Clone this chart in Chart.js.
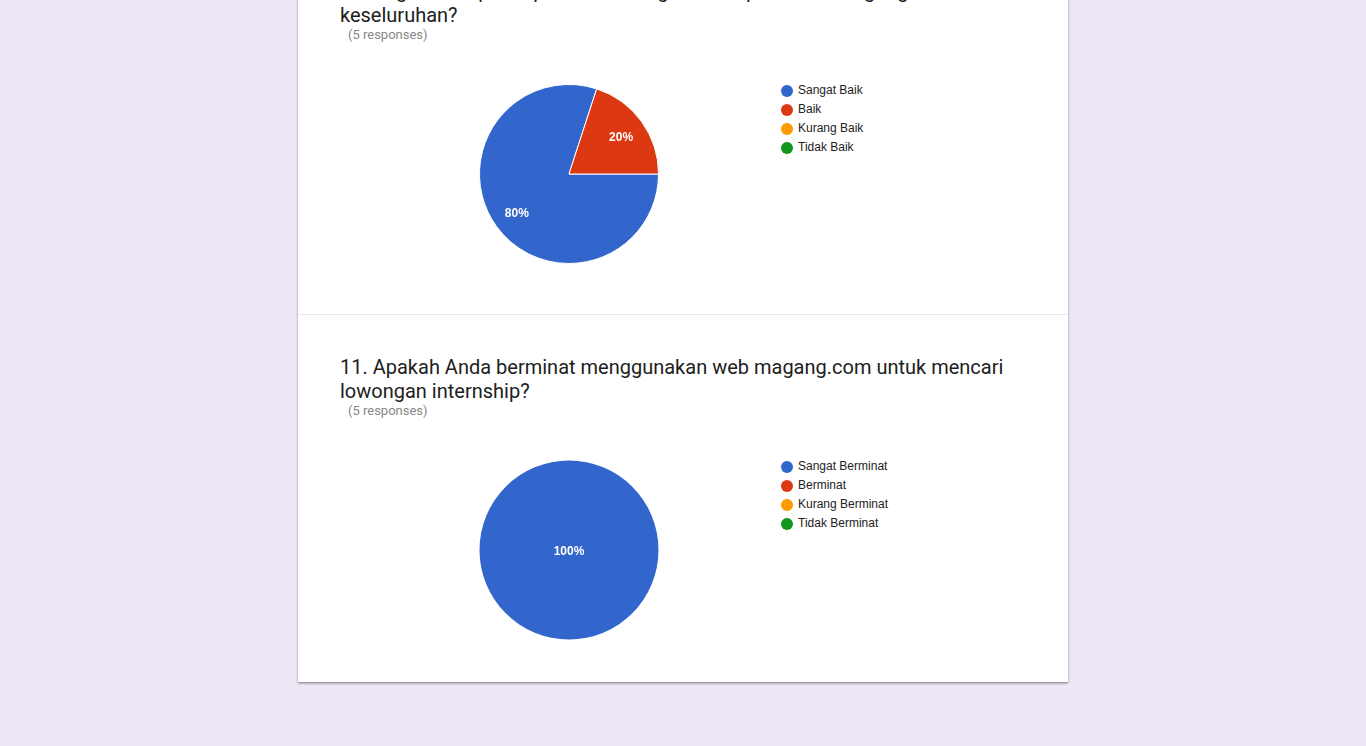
<!DOCTYPE html>
<html>
<head>
<meta charset="utf-8">
<script src="https://cdn.jsdelivr.net/npm/chart.js@4"></script>
<style>
  html, body { margin:0; padding:0; }
  body { width:1366px; height:746px; background:#ede7f6; overflow:hidden; position:relative; font-family: Roboto, Arial, sans-serif; }
  .card { position:absolute; left:298px; top:-40px; width:770px; height:722px; background:#fff;
          box-shadow: 0 1px 1px rgba(0,0,0,0.14), 0 2px 2px rgba(0,0,0,0.12), 0 1px 3px rgba(0,0,0,0.2); }
  .sep { position:absolute; left:298px; width:770px; top:314px; height:1px; background:#e8e8e8; }
  .title { position:absolute; left:340px; width:700px; font-size:20px; line-height:24px; color:#212121; }
  .resp { position:absolute; left:348px; font-size:13px; line-height:16px; color:#888; }
  .pie { position:absolute; width:180px; height:180px; }
  .legend { position:absolute; left:781px; font-family: "Liberation Sans", Arial, sans-serif; font-size:12px; color:#222; }
  .legend div { height:19px; line-height:19px; position:relative; padding-left:17px; white-space:nowrap; }
  .legend span { position:absolute; left:0; top:3.5px; width:12px; height:12px; border-radius:50%; }
</style>
</head>
<body>
<div class="card"></div>
<div class="sep"></div>

<div class="title" style="top:-21px;">10. Bagaimana pendapat Anda mengenai tampilan web magang.com secara<br>keseluruhan?</div>
<div class="resp" style="top:27px;">(5 responses)</div>
<div class="pie" style="left:479px; top:84px;"><canvas id="c1"></canvas></div>
<div class="legend" id="l1" style="top:81px;"></div>

<div class="title" style="top:355px;">11. Apakah Anda berminat menggunakan web magang.com untuk mencari<br>lowongan internship?</div>
<div class="resp" style="top:403px;">(5 responses)</div>
<div class="pie" style="left:479px; top:460px;"><canvas id="c2"></canvas></div>
<div class="legend" id="l2" style="top:457px;"></div>

<script>
const labels1 = ["Sangat Baik", "Baik", "Kurang Baik", "Tidak Baik"];
const values1 = [4, 1, 0, 0];
const labels2 = ["Sangat Berminat", "Berminat", "Kurang Berminat", "Tidak Berminat"];
const values2 = [5, 0, 0, 0];
const colors = ["#3366cc", "#dc3912", "#ff9900", "#109618"];

const pctLabels = {
  id: 'pctLabels',
  afterDatasetsDraw(chart) {
    const ctx = chart.ctx;
    const ds = chart.data.datasets[0];
    const total = ds.data.reduce((a, b) => a + b, 0);
    const meta = chart.getDatasetMeta(0);
    ctx.save();
    ctx.fillStyle = '#ffffff';
    ctx.font = 'bold 12px "Liberation Sans", Arial, sans-serif';
    ctx.textAlign = 'center';
    ctx.textBaseline = 'middle';
    meta.data.forEach((arc, i) => {
      const v = ds.data[i];
      if (!v) return;
      const p = arc.getProps(['x', 'y', 'startAngle', 'endAngle', 'outerRadius'], true);
      const txt = Math.round(v / total * 100) + '%';
      let x = p.x, y = p.y;
      if (v !== total) {
        const mid = (p.startAngle + p.endAngle) / 2;
        const r = p.outerRadius * 0.72;
        x = p.x + Math.cos(mid) * r;
        y = p.y + Math.sin(mid) * r;
      }
      ctx.fillText(txt, x, y + 1.5);
    });
    ctx.restore();
  }
};

function makePie(id, legendId, labels, values) {
  const single = values.filter(v => v > 0).length === 1;
  new Chart(document.getElementById(id), {
    type: 'pie',
    data: { labels: labels, datasets: [{ data: values, backgroundColor: colors, borderColor: '#ffffff', borderWidth: single ? 0 : 1 }] },
    options: {
      responsive: true, maintainAspectRatio: false, animation: false,
      rotation: 90,
      radius: 89.5,
      plugins: { legend: { display: false }, tooltip: { enabled: false } },
      events: []
    },
    plugins: [pctLabels]
  });
  const lg = document.getElementById(legendId);
  labels.forEach((l, i) => {
    const d = document.createElement('div');
    const s = document.createElement('span');
    s.style.background = colors[i];
    d.appendChild(s);
    d.appendChild(document.createTextNode(l));
    lg.appendChild(d);
  });
}
makePie('c1', 'l1', labels1, values1);
makePie('c2', 'l2', labels2, values2);
</script>
</body>
</html>
